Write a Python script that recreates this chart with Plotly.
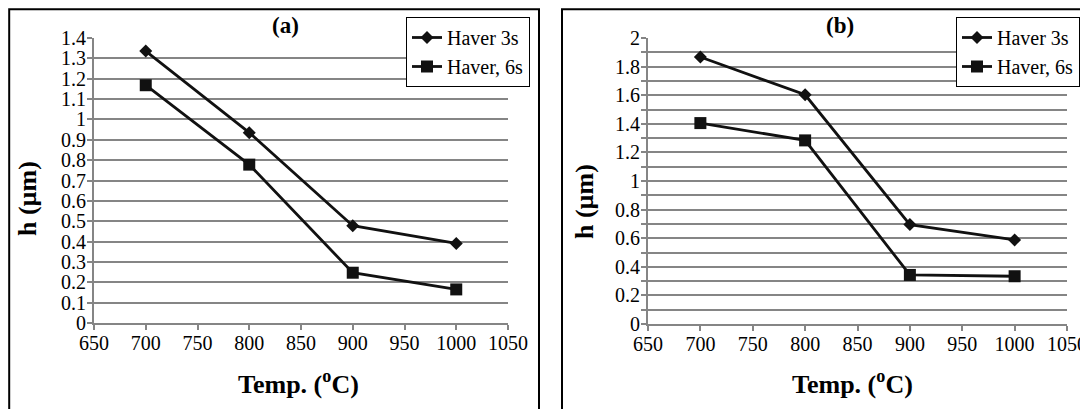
import plotly.graph_objects as go

# ---- data ----
temps = [700, 800, 900, 1000]
a_haver_3s = [1.336, 0.935, 0.478, 0.391]
a_haver_6s = [1.168, 0.778, 0.247, 0.165]
b_haver_3s = [1.867, 1.603, 0.695, 0.588]
b_haver_6s = [1.405, 1.284, 0.343, 0.334]
series_names = ["Haver 3s", "Haver, 6s"]
panel_titles = ["(a)", "(b)"]
x_title = "Temp. (<sup>o</sup>C)"
y_title = "h (µm)"

W, H = 1088, 409
OFF = 8  # page body margin in the browser

def px(x):
    return (x - OFF) / W
def py(y):
    return 1 - (y - OFF) / H

FONT = "Liberation Serif, Times New Roman, serif"
GRID = "#858585"
INK = "#111111"

fig = go.Figure()

def add_pair(y3, y6, xa, ya, leg):
    fig.add_trace(go.Scatter(
        x=temps, y=y3, name=series_names[0], mode="lines+markers",
        line=dict(color=INK, width=2.8),
        marker=dict(symbol="diamond", size=10, color=INK),
        xaxis=xa, yaxis=ya, legend=leg))
    fig.add_trace(go.Scatter(
        x=temps, y=y6, name=series_names[1], mode="lines+markers",
        line=dict(color=INK, width=2.8),
        marker=dict(symbol="square", size=12, color=INK),
        xaxis=xa, yaxis=ya, legend=leg))

add_pair(a_haver_3s, a_haver_6s, "x", "y", "legend")
add_pair(b_haver_3s, b_haver_6s, "x2", "y2", "legend2")

tickfont = dict(family=FONT, size=20, color="black")
xcommon = dict(range=[650, 1050], dtick=50, tick0=650, showline=True,
               linecolor=GRID, linewidth=2, ticks="outside", ticklen=5,
               tickwidth=2, tickcolor=GRID, showgrid=False, zeroline=False,
               tickfont=tickfont, automargin=False, ticklabelstandoff=-4)
ycommon = dict(showline=True, linecolor=GRID, linewidth=2, ticks="outside",
               ticklen=5, tickwidth=2, tickcolor=GRID, showgrid=True,
               gridcolor=GRID, gridwidth=2, zeroline=False, tickfont=tickfont,
               automargin=False, ticklabelstandoff=-3)

legcommon = dict(xanchor="right", yanchor="top", bordercolor="black",
                 borderwidth=1, bgcolor="white", itemwidth=30,
                 font=dict(family=FONT, size=20, color="black"),
                 tracegroupgap=0)

fig.update_layout(
    template="none",
    width=W, height=H, autosize=False,
    margin=dict(l=0, r=0, t=0, b=0, pad=0, autoexpand=False),
    paper_bgcolor="white", plot_bgcolor="white",
    font=dict(family=FONT, size=20, color="black"),
    showlegend=True,
    xaxis=dict(domain=[px(94), px(508)], anchor="y", **xcommon),
    yaxis=dict(domain=[py(323), py(38)], anchor="x", range=[0, 1.4],
               dtick=0.1, tick0=0, **ycommon),
    xaxis2=dict(domain=[px(648), px(1067)], anchor="y2", **xcommon),
    yaxis2=dict(domain=[py(324), py(38)], anchor="x2", range=[0, 2],
                dtick=0.2, tick0=0,
                minor=dict(dtick=0.1, tick0=0, ticks="outside", ticklen=5,
                           tickwidth=2, tickcolor=GRID, showgrid=True,
                           gridcolor=GRID, gridwidth=2),
                **ycommon),
    legend=dict(x=px(530), y=py(17), **legcommon),
    legend2=dict(x=px(1080), y=py(17), **legcommon),
)

top_edge = 1 - 1.2 / H
shapes = [
    dict(type="rect", xref="paper", yref="paper", x0=1.2 / W, x1=px(539),
         y0=-0.1, y1=top_edge, line=dict(color="black", width=2)),
    dict(type="rect", xref="paper", yref="paper", x0=px(562), x1=1.1,
         y0=-0.1, y1=top_edge, line=dict(color="black", width=2)),
]
fig.update_layout(shapes=shapes)

bold = dict(family=FONT, size=26, color="black")
ann = [
    dict(text="<b>" + panel_titles[0] + "</b>", x=px(285), y=py(25),
         font=dict(family=FONT, size=23, color="black")),
    dict(text="<b>" + panel_titles[1] + "</b>", x=px(840), y=py(25),
         font=dict(family=FONT, size=23, color="black")),
    dict(text="<b>" + x_title + "</b>", x=px(298), y=py(382), font=bold),
    dict(text="<b>" + x_title + "</b>", x=px(852), y=py(382), font=bold),
    dict(text="<b>" + y_title + "</b>", x=px(27), y=py(199), font=bold,
         textangle=-90),
    dict(text="<b>" + y_title + "</b>", x=px(584), y=py(202), font=bold,
         textangle=-90),
]
for a in ann:
    a.update(xref="paper", yref="paper", showarrow=False,
             xanchor="center", yanchor="middle")
fig.update_layout(annotations=ann)

fig.write_html("out.html")
